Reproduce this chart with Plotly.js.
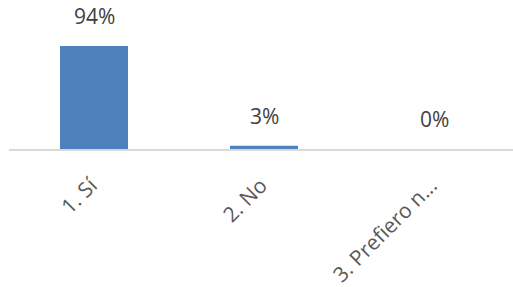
<!DOCTYPE html>
<html>
<head>
<meta charset="utf-8">
<script src="https://cdn.plot.ly/plotly-3.0.1.min.js"></script>
<style>
html, body { margin: 0; padding: 0; overflow: hidden; background: #fff; }
#chart { width: 513px; height: 287px; }
</style>
</head>
<body>
<div id="chart"></div>
<script>
const categories = ["1. Sí", "2. No", "3. Prefiero n..."];
const values = [0.94, 0.03, 0.0];
const valueLabels = ["94%", "3%", "0%"];

const trace = {
  type: "bar",
  x: categories,
  y: values,
  width: 0.4,
  marker: { color: "#4f81bd" },
  hoverinfo: "none"
};

const annotations = categories.map((c, i) => ({
  x: c,
  y: values[i],
  text: valueLabels[i],
  showarrow: false,
  xanchor: "center",
  yanchor: "bottom",
  yshift: 14,
  font: { family: "Open Sans, sans-serif", size: 21, color: "#404040" }
}));

const layout = {
  width: 513,
  height: 287,
  margin: { l: 9, r: 0, t: 0, b: 138 },
  paper_bgcolor: "#ffffff",
  plot_bgcolor: "#ffffff",
  showlegend: false,
  xaxis: {
    type: "category",
    range: [-0.5, 2.4647],
    autorange: false,
    showline: true,
    linecolor: "#d9d9d9",
    linewidth: 2,
    showgrid: false,
    zeroline: false,
    ticks: "",
    tickangle: -45,
    ticklabelstandoff: 14,
    ticklabelshift: -3,
    tickfont: { family: "Open Sans, sans-serif", size: 21, color: "#595959" }
  },
  yaxis: {
    range: [0, 1.36],
    autorange: false,
    visible: false,
    showgrid: false,
    zeroline: false
  },
  annotations: annotations
};

Plotly.newPlot("chart", [trace], layout, { staticPlot: true, displayModeBar: false });
</script>
</body>
</html>
